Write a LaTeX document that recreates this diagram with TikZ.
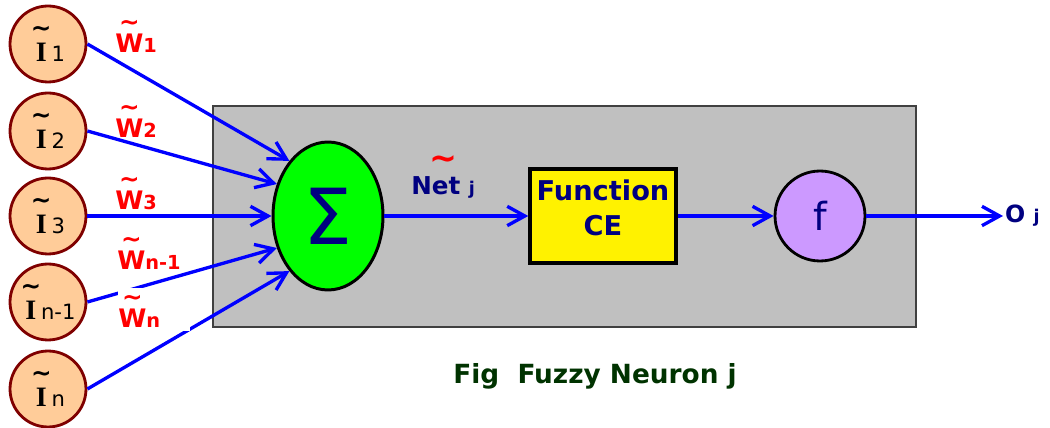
\documentclass[tikz,border=0pt]{standalone}
\usepackage{fontspec}
\setmainfont{DejaVu Sans}
\newfontfamily\serifI{Liberation Serif}
\usetikzlibrary{arrows.meta, shapes.geometric, positioning}
\definecolor{peach}{HTML}{FFCC99}
\definecolor{rimred}{HTML}{7F0000}
\definecolor{navy}{HTML}{000080}
\definecolor{lilac}{HTML}{CC99FF}
\definecolor{figgreen}{HTML}{003300}
\definecolor{boxgray}{HTML}{C0C0C0}
\newcommand{\fsz}[1]{\fontsize{#1}{#1}\selectfont}
% tilde set over a letter
\newcommand{\tildeon}[2][4pt]{\leavevmode\vbox{\offinterlineskip
    \halign{\hfil##\hfil\cr{\bfseries\fsz{14}\textasciitilde}\cr
    \noalign{\kern#1}#2\cr}}}

\begin{document}
\begin{tikzpicture}[
    x=0.02cm, y=-0.02cm,
    input/.style={circle, draw=rimred, fill=peach, line width=1.6pt,
        minimum size=1.52cm, inner sep=0pt, font=\fsz{16}},
    link/.style={line width=1.9pt, draw=blue,
        -{Straight Barb[length=10pt, width=11pt]}},
    weight/.style={anchor=base west, inner sep=0pt, text=red,
        font=\bfseries\fsz{14.5}},
    label text/.style={text=navy, font=\bfseries\fsz{14}}
    ]
    \useasboundingbox (0,0) rectangle (1050,428);
    % neuron body
    \filldraw[fill=boxgray, draw=black!75, line width=0.8pt]
        (213,106) rectangle (916,327);
    % inputs
    \node[input] (i1) at (48,44) {\tildeon{\serifI\bfseries I}\fsz{12}1};
    \node[input] (i2) at (48,131) {\tildeon{\serifI\bfseries I}\fsz{12}2};
    \node[input] (i3) at (48,216) {\tildeon{\serifI\bfseries I}\fsz{12}3};
    \node[input] (i4) at (48,302) {\tildeon{\serifI\bfseries I}\fsz{12}n-1};
    \node[input] (i5) at (48,389) {\tildeon{\serifI\bfseries I}\fsz{12}n};
    % blocks
    \node[ellipse, draw, fill=green, line width=1.7pt, minimum width=2.2cm,
        minimum height=2.96cm, inner sep=0pt, text=navy, font=\fsz{44}]
        (sum) at (328,216) {Σ};
    \node[rectangle, draw, fill=yellow, line width=2pt, minimum width=2.92cm,
        minimum height=1.88cm,
        label={[label text, align=center, yshift=4.5pt,
            font=\bfseries\fontsize{15.5}{20}\selectfont]center:Function\\CE}]
        (ce) at (603,216) {};
    \node[circle, draw, fill=lilac, line width=1.6pt, minimum size=1.8cm,
        text=navy, font=\fsz{22}] (f) at (820,216) {f};
    \node[label text, anchor=west, inner sep=1pt, font=\bfseries\fsz{13.5}]
        (out) at (1003,216) {O {\fsz{10}j}};
    % weighted links
    \draw[link] (i1.east) -- (sum.125);
    \draw[link] (i2.east) -- (sum.148);
    \draw[link] (i3.east) -- (sum.west);
    \draw[link] (i4.east) -- (sum.212);
    \draw[link] (i5.east) -- (sum.235);
    \draw[link] (sum) -- (ce);
    \draw[link] (ce) -- (f);
    \draw[link] (f) -- (out);
    % weights
    \fill[white] (118,288) rectangle (190,331);
    \node[weight] (w1) at (115,53) {\tildeon[2pt]{W}\fsz{11}1};
    \node[weight] (w2) at (115,138) {\tildeon[2pt]{W}\fsz{11}2};
    \node[weight] (w3) at (115,210) {\tildeon[2pt]{W}\fsz{11}3};
    \node[weight] (w4) at (117,270) {\tildeon[2pt]{W}\fsz{11}n-1};
    \node[weight] (w5) at (118,328) {\tildeon[2pt]{W}\fsz{11}n};
    % net label
    \node[label text, anchor=base west, inner sep=0pt]
        (net) at (411,195) {Net {\fsz{10}j}};
    \node[text=red, font=\bfseries\fsz{19}, inner sep=0pt, above=4pt of net]
        (nettilde) {\textasciitilde};
    % caption
    \node[text=figgreen, font=\bfseries\fsz{15}] (caption) at (595,376)
        {Fig\ \ Fuzzy Neuron j};
\end{tikzpicture}
\end{document}
